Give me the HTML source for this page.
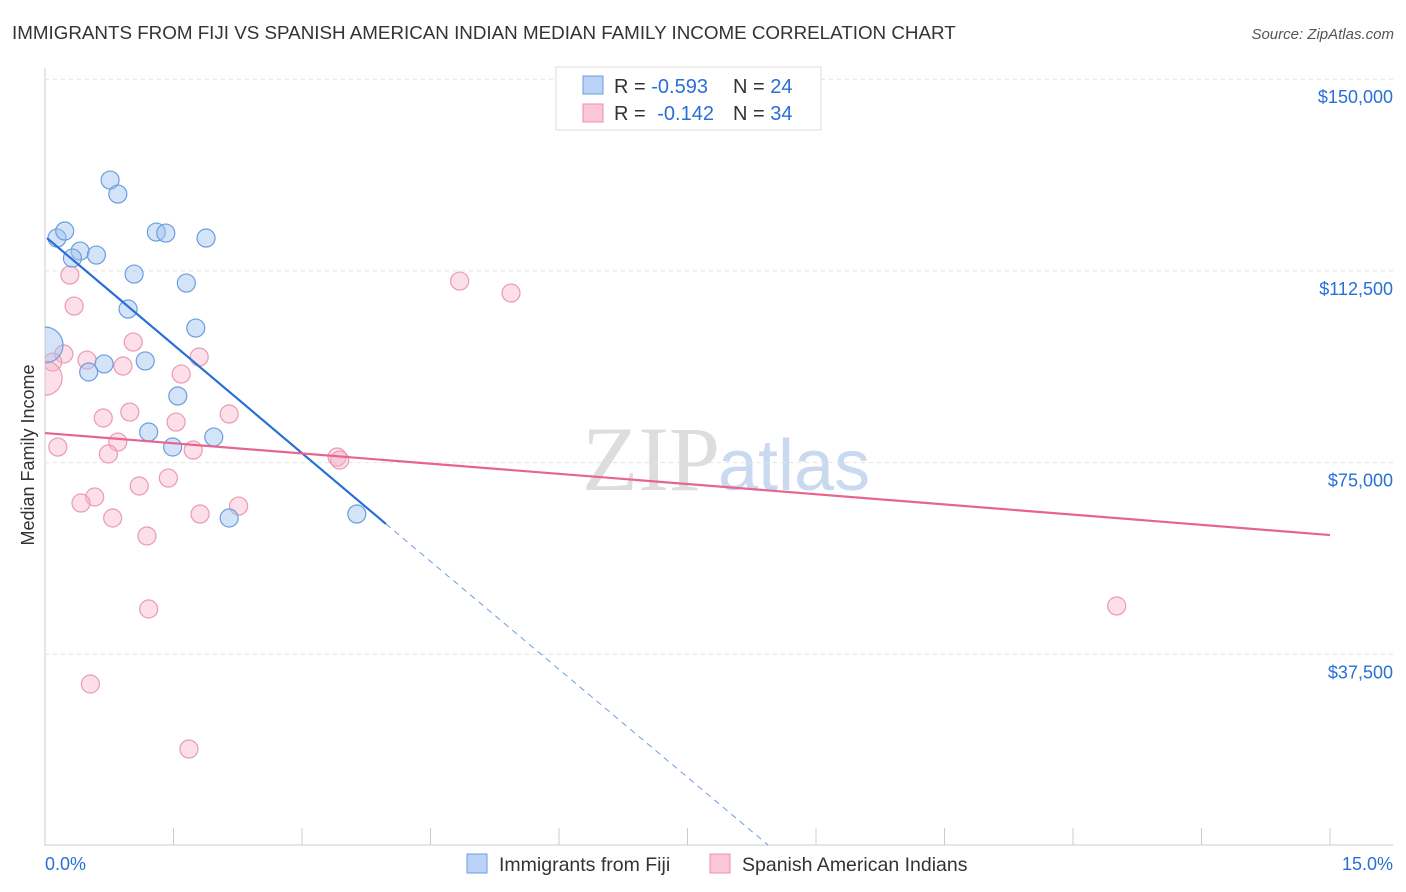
<!DOCTYPE html>
<html><head><meta charset="utf-8"><style>
body{margin:0;background:#fff;font-family:"Liberation Sans",sans-serif;}
svg{display:block}
</style></head><body>
<svg id="chart" width="1406" height="892">
<defs><clipPath id="plotclip"><rect x="45" y="60" width="1360" height="786"/></clipPath></defs>
<text x="12" y="39" font-size="18.8" fill="#333">IMMIGRANTS FROM FIJI VS SPANISH AMERICAN INDIAN MEDIAN FAMILY INCOME CORRELATION CHART</text>
<text x="1394" y="39" font-size="15" fill="#555" text-anchor="end" font-style="italic">Source: ZipAtlas.com</text>
<text x="720" y="490" font-size="92" fill="#ddd" text-anchor="end" font-family="Liberation Serif">ZIP</text>
<text x="718" y="490" font-size="72" fill="#c9daf0">atlas</text>
<text transform="translate(34,455) rotate(-90)" font-size="18" fill="#333" text-anchor="middle">Median Family Income</text>
<g id="grid"></g><g id="marks" clip-path="url(#plotclip)"></g>
<g>
<rect x="556" y="67" width="265" height="63" fill="#fff" stroke="#ddd"/>
<rect x="583" y="76" width="20" height="18" fill="#b9d2f5" stroke="#6a9de0"/>
<rect x="583" y="104" width="20" height="18" fill="#fbc6d6" stroke="#e890aa"/>
<text x="614" y="93" font-size="20" fill="#333">R = <tspan fill="#2a6fd6">-0.593</tspan><tspan x="733">N = </tspan><tspan fill="#2a6fd6">24</tspan></text>
<text x="614" y="120" font-size="20" fill="#333">R = <tspan fill="#2a6fd6" dx="6">-0.142</tspan><tspan x="733">N = </tspan><tspan fill="#2a6fd6">34</tspan></text>
</g>
<g>
<rect x="467" y="854" width="20" height="19" fill="#b9d2f5" stroke="#6a9de0"/>
<text x="499" y="871" font-size="19.5" fill="#333">Immigrants from Fiji</text>
<rect x="710" y="854" width="20" height="19" fill="#fbc6d6" stroke="#e890aa"/>
<text x="742" y="871" font-size="19.5" fill="#333">Spanish American Indians</text>
</g>
</svg>
<script>
const yTicks=[37500,75000,112500,150000];
const yTickLabels=["$37,500","$75,000","$112,500","$150,000"];
const xTicks=[0,1.5,3,4.5,6,7.5,9,10.5,12,13.5,15];
const xTickLabels=["0.0%","15.0%"];
const fijiX=[0.76,0.85,0.14,0.23,0.41,0.32,0.60,1.30,1.41,1.88,1.04,1.65,0.97,1.76,0.0,1.17,0.69,0.51,1.55,1.21,1.49,1.97,2.15,3.64];
const fijiY=[130270,127530,118930,120300,116380,115010,115600,120100,119900,118930,111880,110120,105040,101320,98000,94890,94300,92720,88030,80980,78050,80000,64160,64940];
const fijiSize=[1,1,1,1,1,1,1,1,1,1,1,1,1,1,2.0,1,1,1,1,1,1,1,1,1];
const spX=[0.29,0.34,1.03,1.80,0.49,0.22,0.09,0.91,1.59,0.0,0.68,0.99,1.53,2.15,0.85,0.74,1.73,0.15,3.41,3.44,1.44,1.10,0.58,0.42,0.79,1.81,2.26,1.19,4.84,5.44,1.21,12.51,0.53,1.68];
const spY=[111690,105620,98580,95650,95060,96240,94670,93890,92320,91540,83720,84890,82930,84500,79020,76680,77460,78040,76090,75500,71980,70420,68270,67090,64160,64940,66500,60640,110510,108170,46360,46950,31690,18970];
const spSize=[1,1,1,1,1,1,1,1,1,1.9,1,1,1,1,1,1,1,1,1,1,1,1,1,1,1,1,1,1,1,1,1,1,1,1];
const fijiTrend=[[0.023,118930],[3.98,63000],[8.44,200]];
const spTrend=[[0,80780],[15,60830]];
const NS="http://www.w3.org/2000/svg";
const X=v=>45+v/1.5*128.5, Y=v=>846-v/37500*191.7;
function mk(t,a,p){const e=document.createElementNS(NS,t);for(const k in a)e.setAttribute(k,a[k]);p.appendChild(e);return e;}
const g=document.getElementById('grid'), m=document.getElementById('marks');
const ax=mk('line',{x1:45,y1:68,x2:45,y2:846,stroke:'#ccc'},g);


const bx=mk('line',{x1:45,y1:845,x2:1393,y2:845,stroke:'#ccc'},g);


yTicks.forEach((t,i)=>{
 const l=mk('line',{x1:45,x2:1393,y1:Y(t),y2:Y(t),stroke:'#e2e2e2','stroke-dasharray':'4 4'},g);
 
 
 const tx=mk('text',{x:1393,y:Y(t)+24,'font-size':18,fill:'#2a6fd6','text-anchor':'end'},g);
 tx.textContent=yTickLabels[i];
 
 
});
xTicks.forEach(t=>{
 const l=mk('line',{x1:X(t),x2:X(t),y1:828,y2:845,stroke:'#ccc'},g);
 
 
});
const xl0=mk('text',{x:45,y:870,'font-size':18,fill:'#2a6fd6'},g);xl0.textContent=xTickLabels[0];


const xl1=mk('text',{x:1393,y:870,'font-size':18,fill:'#2a6fd6','text-anchor':'end'},g);xl1.textContent=xTickLabels[1];


spX.forEach((x,i)=>{
 const c=mk('circle',{cx:X(x),cy:Y(spY[i]),r:9*spSize[i],fill:'rgba(248,175,198,0.4)',stroke:'#eb9ab2','stroke-width':1.2},m);
 
 
});
fijiX.forEach((x,i)=>{
 const c=mk('circle',{cx:X(x),cy:Y(fijiY[i]),r:9*fijiSize[i],fill:'rgba(160,195,240,0.45)',stroke:'#6a9de0','stroke-width':1.2},m);
 
 
});
const t1=mk('line',{x1:X(fijiTrend[0][0]),y1:Y(fijiTrend[0][1]),x2:X(fijiTrend[1][0]),y2:Y(fijiTrend[1][1]),stroke:'#2a6fd6','stroke-width':2.2},m);


const t2=mk('line',{x1:X(fijiTrend[1][0]),y1:Y(fijiTrend[1][1]),x2:X(fijiTrend[2][0]),y2:Y(fijiTrend[2][1]),stroke:'#6a9de0','stroke-width':1,'stroke-dasharray':'6 5'},m);


const t3=mk('line',{x1:X(spTrend[0][0]),y1:Y(spTrend[0][1]),x2:X(spTrend[1][0]),y2:Y(spTrend[1][1]),stroke:'#e8648f','stroke-width':2.2},m);


</script>
</body></html>
